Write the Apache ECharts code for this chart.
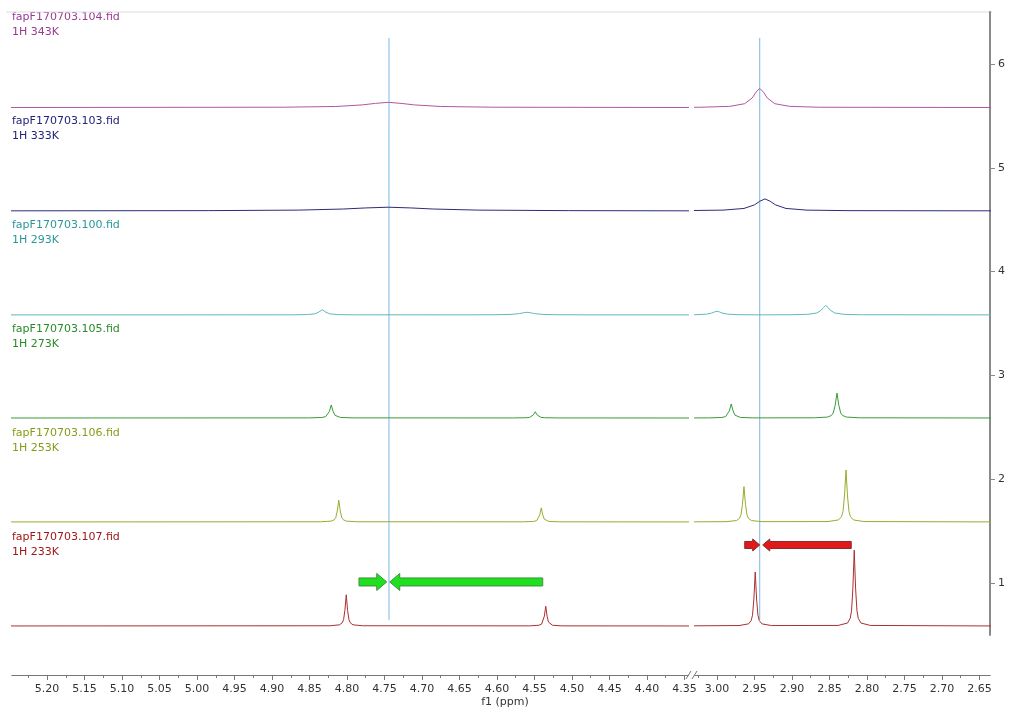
<!DOCTYPE html>
<html><head><meta charset="utf-8">
<script src="https://cdn.jsdelivr.net/npm/echarts@6/dist/echarts.min.js"></script>
<style>html,body{margin:0;padding:0;background:#fff}#c{width:1010px;height:709px}</style>
</head><body><div id="c"></div>
<script>
// ---------- data ----------
const spectrumNames = ['fapF170703.104.fid','fapF170703.103.fid','fapF170703.100.fid','fapF170703.105.fid','fapF170703.106.fid','fapF170703.107.fid'];
const spectrumTemps = ['1H 343K','1H 333K','1H 293K','1H 273K','1H 253K','1H 233K'];
const spectrumOffsets = [5.58, 4.585, 3.583, 2.59, 1.589, 0.587];

const spec104 = [[5.25,0],
 [4.885,0.003],[4.815,0.01],[4.78,0.025],[4.762,0.04],[4.745,0.05],[4.728,0.04],[4.71,0.025],[4.675,0.01],[4.605,0.003],
 [4.34,0],[3.06,0],
 [3.023,0.0028],[2.983,0.011],[2.963,0.037],[2.953,0.0925],[2.948,0.148],[2.943,0.185],[2.938,0.148],[2.933,0.0925],[2.923,0.037],[2.903,0.011],[2.863,0.0028],
 [2.63,0]];
const spec103 = [[5.25,0],
 [4.985,0.002],[4.865,0.007],[4.805,0.0175],[4.775,0.028],[4.745,0.035],[4.715,0.028],[4.685,0.0175],[4.625,0.007],[4.505,0.002],
 [4.34,0],[3.06,0],
 [3.048,0.0018],[2.992,0.0068],[2.964,0.023],[2.950,0.0575],[2.943,0.092],[2.936,0.115],[2.929,0.092],[2.922,0.0575],[2.908,0.023],[2.880,0.0068],[2.824,0.0018],
 [2.63,0]];
const spec100 = [[5.25,0],
 [4.873,0.0008],[4.853,0.003],[4.843,0.01],[4.838,0.025],[4.8355,0.04],[4.833,0.05],[4.8305,0.04],[4.828,0.025],[4.823,0.01],[4.813,0.003],[4.793,0.0008],
 [4.64,0.0004],[4.60,0.0015],[4.58,0.005],[4.57,0.0125],[4.565,0.02],[4.56,0.025],[4.555,0.02],[4.55,0.0125],[4.54,0.005],[4.52,0.0015],[4.48,0.0004],
 [4.34,0],[3.06,0],
 [3.056,0.0005],[3.028,0.002],[3.014,0.007],[3.007,0.0175],[3.0035,0.028],[3.00,0.035],[2.9965,0.028],[2.993,0.0175],[2.986,0.007],[2.972,0.002],[2.944,0.0005],
 [2.903,0.0014],[2.879,0.0053],[2.867,0.018],[2.861,0.045],[2.858,0.072],[2.855,0.09],[2.852,0.072],[2.849,0.045],[2.843,0.018],[2.831,0.0053],[2.807,0.0014],
 [2.63,0]];
const spec105 = [[5.25,0],
 [4.851,0.001],[4.8335,0.005],[4.8285,0.0125],[4.826,0.025],[4.8235,0.0625],[4.821,0.125],[4.8185,0.0625],[4.816,0.025],[4.8135,0.0125],[4.8085,0.005],[4.791,0.001],
 [4.579,0.0004],[4.5615,0.0023],[4.5565,0.006],[4.554,0.012],[4.5515,0.03],[4.549,0.06],[4.5465,0.03],[4.544,0.012],[4.5415,0.006],[4.5365,0.0023],[4.519,0.0004],
 [4.34,0],[3.06,0],
 [3.011,0.001],[2.9935,0.005],[2.9885,0.0135],[2.986,0.027],[2.9835,0.068],[2.981,0.135],[2.9785,0.068],[2.976,0.027],[2.9735,0.0135],[2.9685,0.005],[2.951,0.001],
 [2.870,0.0017],[2.8525,0.009],[2.8475,0.024],[2.845,0.048],[2.8425,0.12],[2.840,0.24],[2.8375,0.12],[2.835,0.048],[2.8325,0.024],[2.8275,0.009],[2.810,0.0017],
 [2.63,0]];
const spec106 = [[5.25,0],
 [4.835,0.0015],[4.821,0.008],[4.817,0.021],[4.815,0.042],[4.813,0.105],[4.811,0.21],[4.809,0.105],[4.807,0.042],[4.805,0.021],[4.801,0.008],[4.787,0.0015],
 [4.565,0.001],[4.551,0.005],[4.547,0.0135],[4.545,0.027],[4.543,0.068],[4.541,0.135],[4.539,0.068],[4.537,0.027],[4.535,0.0135],[4.531,0.005],[4.517,0.001],
 [4.34,0],[3.06,0],
 [2.988,0.0024],[2.974,0.013],[2.970,0.034],[2.968,0.068],[2.966,0.17],[2.964,0.34],[2.962,0.17],[2.960,0.068],[2.958,0.034],[2.954,0.013],[2.940,0.0024],
 [2.852,0.0035],[2.838,0.019],[2.834,0.05],[2.832,0.10],[2.830,0.25],[2.828,0.50],[2.826,0.25],[2.824,0.10],[2.822,0.05],[2.818,0.019],[2.804,0.0035],
 [2.63,0]];
const spec107 = [[5.25,0],
 [4.8226,0.002],[4.810,0.011],[4.8064,0.03],[4.8046,0.06],[4.8028,0.15],[4.801,0.30],[4.7992,0.15],[4.7974,0.06],[4.7956,0.03],[4.792,0.011],[4.7794,0.002],
 [4.5566,0.001],[4.544,0.007],[4.5404,0.019],[4.5386,0.038],[4.5368,0.095],[4.535,0.19],[4.5332,0.095],[4.5314,0.038],[4.5296,0.019],[4.526,0.007],[4.5134,0.001],
 [4.34,0],[3.06,0],
 [2.9706,0.004],[2.958,0.02],[2.9544,0.052],[2.9526,0.104],[2.9508,0.26],[2.949,0.52],[2.9472,0.26],[2.9454,0.104],[2.9436,0.052],[2.940,0.02],[2.9274,0.004],
 [2.8386,0.005],[2.826,0.028],[2.8224,0.073],[2.8206,0.146],[2.8188,0.365],[2.817,0.73],[2.8152,0.365],[2.8134,0.146],[2.8116,0.073],[2.808,0.028],[2.7954,0.005],
 [2.63,0]];
const spectra = [spec104, spec103, spec100, spec105, spec106, spec107];

const leftTicks = [5.20,5.15,5.10,5.05,5.00,4.95,4.90,4.85,4.80,4.75,4.70,4.65,4.60,4.55,4.50,4.45,4.40,4.35];
const leftMinorTicks = [5.225,5.175,5.125,5.075,5.025,4.975,4.925,4.875,4.825,4.775,4.725,4.675,4.625,4.575,4.525,4.475,4.425,4.375];
const rightTicks = [3.00,2.95,2.90,2.85,2.80,2.75,2.70,2.65];
const rightMinorTicks = [3.025,2.975,2.925,2.875,2.825,2.775,2.725,2.675];
const yTicks = [1,2,3,4,5,6];

const leftRange = [4.3453, 5.2467];
const rightRange = [2.636, 3.0293];
const yRange = [0.5, 6.5];

const markerPpm = [4.744, 2.943];
const markerSpan = [0.645, 6.25];
// arrows: [tail ppm, tip ppm, y]
const greenArrows = [[4.784, 4.747, 1.011], [4.539, 4.743, 1.011]];
const redArrows = [[2.963, 2.943, 1.367], [2.821, 2.939, 1.367]];

// ---------- styles ----------
const lineColors = ['#b0579f','#2c2c78','#62b8b8','#3a9a3a','#9aab2e','#a83030'];
const labelColors = ['#9a3a92','#23237a','#2a9898','#2a8a2a','#8a9a1a','#a01818'];
const FONT = 'DejaVu Sans';

const chart = echarts.init(document.getElementById('c'), null, {renderer: 'canvas'});

function xAxisDef(grid, range, ticks, major) {
  return {
    type: 'value', gridIndex: grid, min: range[0], max: range[1], inverse: true,
    offset: 40, position: 'bottom',
    splitLine: {show: false},
    axisLine: {show: true, onZero: false, lineStyle: {color: '#777', width: 1}},
    axisTick: {show: true, customValues: ticks, length: major ? 5 : 3, lineStyle: {color: '#777'}},
    axisLabel: major ? {show: true, customValues: ticks, formatter: v => v.toFixed(2),
      fontFamily: FONT, fontSize: 11, color: '#333', margin: 9, hideOverlap: false} : {show: false}
  };
}

function arrowRenderer(shaft, head, headLen) {
  return function (params, api) {
    const y = api.value(2);
    const a = api.coord([api.value(0), y]);
    const b = api.coord([api.value(1), y]);
    const dir = b[0] > a[0] ? 1 : -1;
    const hx = b[0] - dir * headLen;
    const cy = a[1];
    return {
      type: 'polygon',
      shape: {points: [[a[0], cy - shaft], [hx, cy - shaft], [hx, cy - head], [b[0], cy], [hx, cy + head], [hx, cy + shaft], [a[0], cy + shaft]]},
      style: api.style()
    };
  };
}

const series = [];
[0, 1].forEach(g => {
  series.push({
    type: 'line', xAxisIndex: g === 0 ? 0 : 2, yAxisIndex: g, silent: true, showSymbol: false, symbol: 'none',
    lineStyle: {color: '#7ab8e6', width: 1}, z: 1,
    data: [[markerPpm[g], markerSpan[0]], [markerPpm[g], markerSpan[1]]]
  });
});
spectra.forEach((pts, i) => {
  const left = pts.filter(p => p[0] > 3.5).map(p => [p[0], p[1] + spectrumOffsets[i]]);
  const right = pts.filter(p => p[0] < 3.5).map(p => [p[0], p[1] + spectrumOffsets[i]]);
  const common = {type: 'line', showSymbol: false, symbol: 'none', silent: true, clip: true, z: 2,
    lineStyle: {color: lineColors[i], width: 1}, animation: false};
  series.push(Object.assign({}, common, {xAxisIndex: 0, yAxisIndex: 0, data: left}));
  series.push(Object.assign({}, common, {xAxisIndex: 2, yAxisIndex: 1, data: right}));
});
series.push({
  type: 'custom', xAxisIndex: 0, yAxisIndex: 0, data: greenArrows, silent: true, z: 5,
  encode: {x: [0, 1], y: 2},
  itemStyle: {color: '#1fe01f', borderColor: '#3f8f3f', borderWidth: 1},
  renderItem: arrowRenderer(4, 8.5, 10)
});
series.push({
  type: 'custom', xAxisIndex: 2, yAxisIndex: 1, data: redArrows, silent: true, z: 5,
  encode: {x: [0, 1], y: 2},
  itemStyle: {color: '#e0191b', borderColor: '#8a2a2a', borderWidth: 1},
  renderItem: arrowRenderer(3.5, 6, 7)
});

const graphics = [];
spectrumNames.forEach((n, i) => {
  graphics.push({type: 'text', left: 12, top: 10 + i * 104,
    style: {text: n + '\n' + spectrumTemps[i], fill: labelColors[i], font: '11px "DejaVu Sans"', lineHeight: 15}});
});
graphics.push({type: 'line', shape: {x1: 6, y1: 12, x2: 992, y2: 12}, style: {stroke: '#dcdcdc', lineWidth: 1}});
graphics.push({type: 'line', shape: {x1: 686, y1: 679, x2: 691, y2: 671}, style: {stroke: '#777', lineWidth: 1}});
graphics.push({type: 'line', shape: {x1: 692, y1: 679, x2: 697, y2: 671}, style: {stroke: '#777', lineWidth: 1}});

chart.setOption({
  animation: false,
  backgroundColor: '#fff',
  title: {text: 'f1 (ppm)', left: 'center', top: 697, padding: 0,
    textStyle: {fontFamily: FONT, fontSize: 11, fontWeight: 'normal', color: '#333'}},
  grid: [
    {left: 12, width: 676, top: 12, bottom: 74, containLabel: false},
    {left: 695, right: 20, top: 12, bottom: 74, containLabel: false}
  ],
  xAxis: [
    xAxisDef(0, leftRange, leftTicks, true),
    xAxisDef(0, leftRange, leftMinorTicks, false),
    xAxisDef(1, rightRange, rightTicks, true),
    xAxisDef(1, rightRange, rightMinorTicks, false)
  ],
  yAxis: [
    {type: 'value', gridIndex: 0, min: yRange[0], max: yRange[1], show: false, splitLine: {show: false}},
    {type: 'value', gridIndex: 1, min: yRange[0], max: yRange[1], position: 'right',
      splitLine: {show: false},
      axisLine: {show: true, lineStyle: {color: '#8a8a8a', width: 2}},
      axisTick: {show: true, customValues: yTicks, length: 5, lineStyle: {color: '#8a8a8a'}},
      axisLabel: {show: true, customValues: yTicks, fontFamily: FONT, fontSize: 11, color: '#333', margin: 8}}
  ],
  graphic: graphics,
  series: series
});
</script></body></html>
